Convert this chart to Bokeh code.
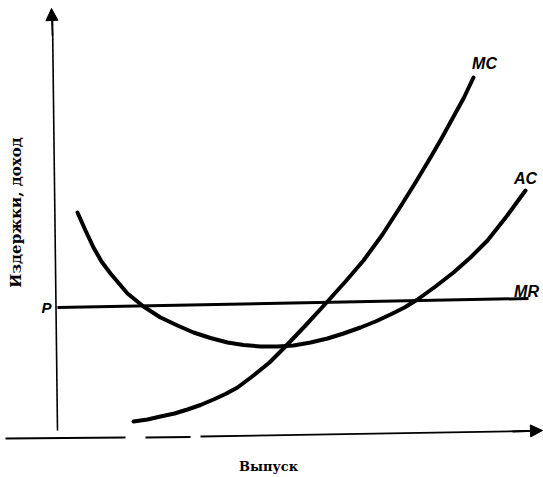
from bokeh.plotting import figure
from bokeh.models import Range1d, Arrow, NormalHead
from bokeh.core.properties import value
from bokeh.embed import file_html
from bokeh.resources import INLINE
import math

# Data (output Q, cost/revenue)
ac_q = [2.0, 2.8, 3.6, 4.4, 5.3, 7.0, 8.6, 10.3, 12.0, 13.6, 15.3, 17.0, 18.6, 20.3, 22.0, 23.6, 25.3,
        27.0, 28.6, 30.3, 31.8, 33.3, 34.7, 36.0, 37.8, 39.6, 41.3, 43.0, 44.9, 46.8]
ac_c = [22.3, 20.5, 18.8, 17.4, 16.2, 14.2, 12.9, 11.8, 11.0, 10.3, 9.75, 9.3, 9.05, 8.9, 8.9, 9.0, 9.3,
        9.7, 10.2, 10.8, 11.4, 12.1, 12.8, 13.6, 14.9, 16.3, 17.8, 19.5, 21.9, 24.5]

mc_q = [7.6, 9.0, 10.3, 11.7, 13.0, 14.3, 15.6, 16.8, 18.0, 19.6, 21.2, 22.6, 24.8, 27.0, 28.8,
        30.6, 32.5, 34.3, 35.8, 37.3, 38.4, 39.5, 40.6, 41.6]
mc_c = [1.4, 1.6, 1.9, 2.2, 2.6, 3.05, 3.6, 4.15, 4.8, 6.0, 7.3, 8.7, 11.0, 13.4, 15.4,
        17.5, 20.1, 22.9, 25.3, 27.8, 29.7, 31.7, 33.7, 35.8]

mr_q = [0.0, 47.1]
mr_c = [12.8, 13.7]

curve_labels = ["MC", "AC", "MR"]
label_q = [42.7, 46.8, 46.9]
label_c = [37.2, 25.7, 14.4]

p_label_q = [-1.1]
p_label_c = [12.8]

y_title = "Издержки, доход"
x_title = "Выпуск"

p = figure(width=543, height=477, output_backend="svg", toolbar_location=None,
           x_range=Range1d(-5.7, 48.6), y_range=Range1d(-4.2, 43.5),
           min_border=0, outline_line_color=None)
p.xaxis.visible = False
p.yaxis.visible = False
p.xgrid.visible = False
p.ygrid.visible = False
p.background_fill_color = "white"

# axes (drawn by hand, as in the scan)
p.segment(x0=[0.0], y0=[0.5], x1=[-0.5], y1=[41.6], line_color="black", line_width=1.6)
p.add_layout(Arrow(end=NormalHead(size=12, fill_color="black", line_color="black"),
                   x_start=-0.5, y_start=40.0, x_end=-0.6, y_end=42.7,
                   line_color="black", line_width=1.6))
p.multi_line(xs=[[-5.2, 6.8], [8.8, 13.3], [14.3, 47.0]],
             ys=[[-0.3, -0.2], [-0.2, -0.15], [-0.1, 0.45]],
             line_color="black", line_width=1.8)
p.add_layout(Arrow(end=NormalHead(size=12, fill_color="black", line_color="black"),
                   x_start=45.5, y_start=0.4, x_end=48.5, y_end=0.5,
                   line_color="black", line_width=1.8))

# curves
p.line(mr_q, mr_c, line_color="black", line_width=3)
p.line(ac_q, ac_c, line_color="black", line_width=4, line_join="round", line_cap="round")
p.line(mc_q, mc_c, line_color="black", line_width=4, line_join="round", line_cap="round")

# labels
p.text(x=label_q, y=label_c, text=curve_labels, text_font=value("Liberation Sans"),
       text_font_style="bold italic", text_font_size="16px", text_align="center",
       text_baseline="middle", text_color="black")
p.text(x=p_label_q, y=p_label_c, text=["P"], text_font=value("Liberation Sans"),
       text_font_style="bold italic", text_font_size="15px", text_align="center",
       text_baseline="middle", text_color="black")
p.text(x=[-4.2], y=[22.3], text=[y_title], angle=math.pi / 2,
       text_font=value("DejaVu Serif"), text_font_style="bold", text_font_size="15px",
       text_align="center", text_baseline="middle", text_color="black")
p.text(x=[21.1], y=[-3.1], text=[x_title],
       text_font=value("DejaVu Serif"), text_font_style="bold", text_font_size="13px",
       text_align="center", text_baseline="middle", text_color="black")

open("out.html", "w").write(file_html(p, INLINE))
